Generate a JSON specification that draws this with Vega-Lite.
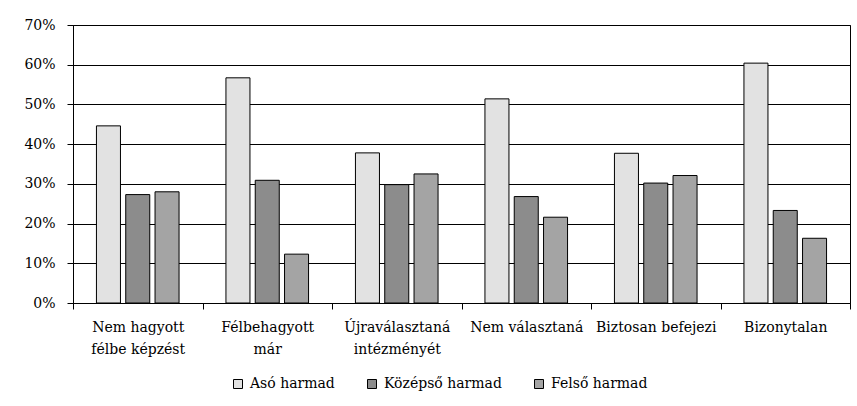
{
  "$schema": "https://vega.github.io/schema/vega-lite/v6.json",
  "width": 777,
  "height": 278,
  "autosize": {"type": "none"},
  "padding": {"left": 73, "top": 25, "right": 7, "bottom": 103},
  "background": "white",
  "data": {
    "values": [
      {"kategoria": "Nem hagyott félbe képzést", "csoport": "Asó harmad", "arany": 0.446},
      {"kategoria": "Nem hagyott félbe képzést", "csoport": "Középső harmad", "arany": 0.273},
      {"kategoria": "Nem hagyott félbe képzést", "csoport": "Felső harmad", "arany": 0.280},
      {"kategoria": "Félbehagyott már", "csoport": "Asó harmad", "arany": 0.567},
      {"kategoria": "Félbehagyott már", "csoport": "Középső harmad", "arany": 0.309},
      {"kategoria": "Félbehagyott már", "csoport": "Felső harmad", "arany": 0.123},
      {"kategoria": "Újraválasztaná intézményét", "csoport": "Asó harmad", "arany": 0.378},
      {"kategoria": "Újraválasztaná intézményét", "csoport": "Középső harmad", "arany": 0.298},
      {"kategoria": "Újraválasztaná intézményét", "csoport": "Felső harmad", "arany": 0.325},
      {"kategoria": "Nem választaná", "csoport": "Asó harmad", "arany": 0.514},
      {"kategoria": "Nem választaná", "csoport": "Középső harmad", "arany": 0.268},
      {"kategoria": "Nem választaná", "csoport": "Felső harmad", "arany": 0.216},
      {"kategoria": "Biztosan befejezi", "csoport": "Asó harmad", "arany": 0.377},
      {"kategoria": "Biztosan befejezi", "csoport": "Középső harmad", "arany": 0.302},
      {"kategoria": "Biztosan befejezi", "csoport": "Felső harmad", "arany": 0.321},
      {"kategoria": "Bizonytalan", "csoport": "Asó harmad", "arany": 0.604},
      {"kategoria": "Bizonytalan", "csoport": "Középső harmad", "arany": 0.233},
      {"kategoria": "Bizonytalan", "csoport": "Felső harmad", "arany": 0.163}
    ]
  },
  "mark": {"type": "bar", "stroke": "black", "strokeWidth": 1},
  "encoding": {
    "x": {
      "field": "kategoria",
      "type": "nominal",
      "sort": null,
      "title": null,
      "scale": {"paddingInner": 0, "paddingOuter": 0},
      "axis": {
        "labelAngle": 0,
        "tickBand": "extent",
        "tickSize": 6,
        "labelPadding": 11,
        "labelFontSize": 14,
        "labelLineHeight": 22,
        "labelBaseline": "top",
        "labelLimit": 200,
        "labelExpr": "datum.label == 'Nem hagyott félbe képzést' ? ['Nem hagyott', 'félbe képzést'] : datum.label == 'Félbehagyott már' ? ['Félbehagyott', 'már'] : datum.label == 'Újraválasztaná intézményét' ? ['Újraválasztaná', 'intézményét'] : datum.label"
      }
    },
    "xOffset": {
      "field": "csoport",
      "type": "nominal",
      "sort": ["Asó harmad", "Középső harmad", "Felső harmad"],
      "scale": {"paddingInner": 0.18, "paddingOuter": 0.8}
    },
    "y": {
      "field": "arany",
      "type": "quantitative",
      "title": null,
      "scale": {"domain": [0, 0.7], "nice": false},
      "axis": {
        "values": [0, 0.1, 0.2, 0.3, 0.4, 0.5, 0.6, 0.7],
        "format": ".0%",
        "tickSize": 6,
        "labelPadding": 12,
        "labelFontSize": 14
      }
    },
    "fill": {
      "field": "csoport",
      "type": "nominal",
      "sort": ["Asó harmad", "Középső harmad", "Felső harmad"],
      "scale": {"domain": ["Asó harmad", "Középső harmad", "Felső harmad"], "range": ["#e2e2e2", "#8c8c8c", "#a4a4a4"]},
      "legend": {
        "title": null,
        "orient": "none",
        "direction": "horizontal",
        "legendX": 158,
        "legendY": 352,
        "symbolType": "square",
        "symbolSize": 81,
        "symbolStrokeColor": "black",
        "symbolStrokeWidth": 1,
        "labelFontSize": 14,
        "labelOffset": 5,
        "columnPadding": 30
      }
    }
  },
  "config": {
    "font": "DejaVu Serif",
    "view": {"stroke": "black", "strokeWidth": 1},
    "axis": {
      "labelFont": "DejaVu Serif",
      "labelColor": "black",
      "domainColor": "black",
      "tickColor": "black",
      "gridColor": "black",
      "gridOpacity": 1,
      "domainWidth": 1,
      "tickWidth": 1,
      "gridWidth": 1
    },
    "axisX": {"grid": false},
    "axisY": {"grid": true},
    "legend": {"labelFont": "DejaVu Serif", "labelColor": "black"}
  }
}
